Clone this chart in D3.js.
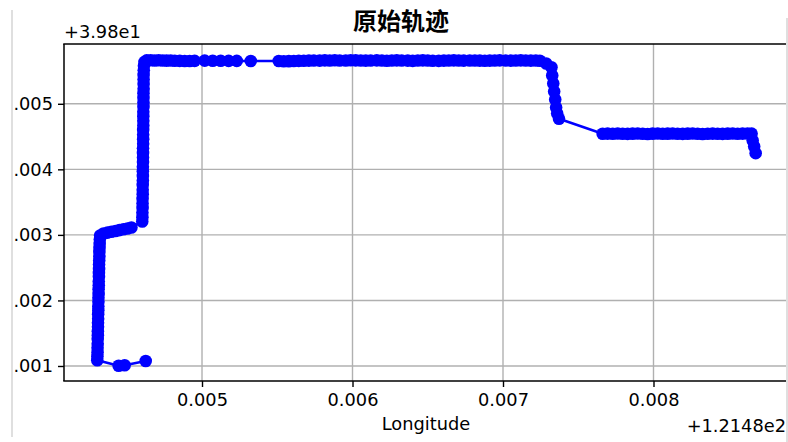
<!DOCTYPE html>
<html>
<head>
<meta charset="utf-8">
<script src="https://cdn.jsdelivr.net/npm/d3@7"></script>
<style>
  html, body { margin: 0; padding: 0; background: #ffffff; }
  svg { display: block; }
</style>
</head>
<body>
<div id="chart"></div>
<script>
// Raw GPS trajectory: longitude / latitude of each recorded fix, in order.
const longitude = [
  121.484626, 121.484486, 121.484446, 121.484304,
  // climb along the western edge
  121.484305, 121.484306, 121.484306, 121.484307, 121.484307, 121.484308,
  121.484308, 121.484309, 121.484309, 121.484310, 121.484310, 121.484311,
  121.484311, 121.484312, 121.484312, 121.484313, 121.484313, 121.484314,
  121.484314, 121.484315, 121.484315, 121.484316, 121.484316, 121.484317,
  121.484318, 121.484318, 121.484319, 121.484320, 121.484321, 121.484323,
  // short eastward leg
  121.484345, 121.484372, 121.484398, 121.484425, 121.484451, 121.484478,
  121.484505, 121.484531,
  // second climb
  121.484603, 121.484604, 121.484604, 121.484605, 121.484605, 121.484605,
  121.484606, 121.484606, 121.484606, 121.484607, 121.484607, 121.484607,
  121.484607, 121.484608, 121.484608, 121.484608, 121.484608, 121.484609,
  121.484609, 121.484609, 121.484609, 121.484610, 121.484610, 121.484610,
  121.484610, 121.484611, 121.484611, 121.484611, 121.484611, 121.484612,
  121.484612, 121.484612, 121.484612, 121.484613, 121.484614, 121.484618,
  // long northern run heading east
  121.484633, 121.484659, 121.484686, 121.484712, 121.484739, 121.484765,
  121.484792, 121.484819, 121.484852, 121.484885, 121.484918, 121.484951,
  121.485018, 121.485071, 121.485124, 121.485177, 121.485231, 121.485324,
  121.485510, 121.485543, 121.485577, 121.485610, 121.485643, 121.485676,
  121.485710, 121.485743, 121.485782, 121.485816, 121.485849, 121.485882,
  121.485915, 121.485955, 121.485988, 121.486021, 121.486055, 121.486088,
  121.486121, 121.486161, 121.486195, 121.486228, 121.486261, 121.486294,
  121.486327, 121.486367, 121.486400, 121.486434, 121.486467, 121.486500,
  121.486533, 121.486573, 121.486607, 121.486640, 121.486673, 121.486706,
  121.486739, 121.486779, 121.486813, 121.486846, 121.486879, 121.486912,
  121.486945, 121.486978, 121.487018, 121.487052, 121.487085, 121.487118,
  121.487151, 121.487185, 121.487218, 121.487245,
  // descent
  121.487287, 121.487322, 121.487327, 121.487334, 121.487340, 121.487347,
  121.487353, 121.487360, 121.487372,
  // eastern run
  121.487662, 121.487695, 121.487729, 121.487762, 121.487795, 121.487828,
  121.487861, 121.487895, 121.487928, 121.487961, 121.487994, 121.488028,
  121.488061, 121.488094, 121.488127, 121.488160, 121.488194, 121.488227,
  121.488260, 121.488293, 121.488326, 121.488360, 121.488393, 121.488426,
  121.488459, 121.488493, 121.488526, 121.488559, 121.488592, 121.488625,
  121.488652,
  // final fixes
  121.488659, 121.488669, 121.488679
];

const latitude = [
  39.801076, 39.801011, 39.801003, 39.801087,
  39.801150, 39.801210, 39.801280, 39.801340, 39.801410, 39.801470,
  39.801530, 39.801600, 39.801660, 39.801720, 39.801790, 39.801850,
  39.801910, 39.801980, 39.802040, 39.802100, 39.802170, 39.802230,
  39.802290, 39.802360, 39.802420, 39.802480, 39.802550, 39.802610,
  39.802670, 39.802740, 39.802800, 39.802860, 39.802930, 39.802990,
  39.803020, 39.803035, 39.803048, 39.803060, 39.803072, 39.803085,
  39.803098, 39.803112,
  39.803205, 39.803270, 39.803340, 39.803410, 39.803480, 39.803550,
  39.803620, 39.803690, 39.803760, 39.803830, 39.803900, 39.803970,
  39.804040, 39.804110, 39.804180, 39.804250, 39.804320, 39.804390,
  39.804460, 39.804530, 39.804600, 39.804670, 39.804740, 39.804810,
  39.804880, 39.804950, 39.805020, 39.805090, 39.805160, 39.805230,
  39.805300, 39.805370, 39.805440, 39.805510, 39.805580, 39.805640,
  39.805662, 39.805665, 39.805660, 39.805664, 39.805661, 39.805658,
  39.805660, 39.805656, 39.805655, 39.805653, 39.805652, 39.805655,
  39.805658, 39.805656, 39.805657, 39.805655, 39.805654, 39.805652,
  39.805652, 39.805648, 39.805650, 39.805652, 39.805655, 39.805657,
  39.805658, 39.805660, 39.805658, 39.805662, 39.805660, 39.805664,
  39.805661, 39.805660, 39.805664, 39.805662, 39.805660, 39.805658,
  39.805660, 39.805662, 39.805660, 39.805657, 39.805660, 39.805662,
  39.805660, 39.805658, 39.805655, 39.805660, 39.805662, 39.805660,
  39.805657, 39.805655, 39.805658, 39.805660, 39.805662, 39.805660,
  39.805658, 39.805660, 39.805661, 39.805659, 39.805656, 39.805658,
  39.805660, 39.805662, 39.805660, 39.805658, 39.805660, 39.805662,
  39.805660, 39.805658, 39.805660, 39.805656,
  39.805614, 39.805558, 39.805431, 39.805309, 39.805188, 39.805066,
  39.804944, 39.804852, 39.804771,
  39.804543, 39.804545, 39.804542, 39.804546, 39.804543, 39.804541,
  39.804544, 39.804547, 39.804543, 39.804540, 39.804544, 39.804546,
  39.804542, 39.804544, 39.804547, 39.804543, 39.804541, 39.804544,
  39.804546, 39.804543, 39.804540, 39.804542, 39.804545, 39.804543,
  39.804541, 39.804544, 39.804546, 39.804543, 39.804545, 39.804547,
  39.804545,
  39.804441, 39.804349, 39.804247
];

// Axis ticks and the offsets shown in the corners of the axes
const xTicks = [121.485, 121.486, 121.487, 121.488];
const yTicks = [39.801, 39.802, 39.803, 39.804, 39.805];
const xOffset = 121.48;
const yOffset = 39.80;
const xOffsetLabel = "+1.2148e2";
const yOffsetLabel = "+3.98e1";
const xDomain = [121.484083, 121.488907];
const yDomain = [39.800771, 39.805912];

const titleText = "原始轨迹";
const xLabelText = "Longitude";

const points = longitude.map((lon, i) => ({ lon, lat: latitude[i] }));

const W = 788, H = 442;
const plot = { left: 64, top: 44, bottom: 381, right: 790 };
const FS = 17.8;

const svg = d3.select("#chart").append("svg")
  .attr("width", W).attr("height", H)
  .style("font-family", "'DejaVu Sans', sans-serif");

svg.append("rect").attr("width", W).attr("height", H).attr("fill", "#ffffff");

const defs = svg.append("defs");
// visible frame of the page
defs.append("clipPath").attr("id", "frame")
  .append("rect").attr("x", 13).attr("y", 0).attr("width", 773).attr("height", H);
defs.append("clipPath").attr("id", "plotArea")
  .append("rect")
  .attr("x", plot.left).attr("y", plot.top)
  .attr("width", plot.right - plot.left).attr("height", plot.bottom - plot.top);

const root = svg.append("g").attr("clip-path", "url(#frame)");

const x = d3.scaleLinear().domain(xDomain).range([plot.left, plot.right]);
const y = d3.scaleLinear().domain(yDomain).range([plot.bottom, plot.top]);

const fmtX = v => (v - xOffset).toFixed(3);
const fmtY = v => (v - yOffset).toFixed(3);

// grid
const grid = root.append("g").attr("clip-path", "url(#plotArea)");
grid.selectAll("line.gx").data(xTicks).join("line")
  .attr("x1", d => x(d)).attr("x2", d => x(d))
  .attr("y1", plot.top).attr("y2", plot.bottom)
  .attr("stroke", "#b0b0b0").attr("stroke-width", 1.4);
grid.selectAll("line.gy").data(yTicks).join("line")
  .attr("x1", plot.left).attr("x2", plot.right)
  .attr("y1", d => y(d)).attr("y2", d => y(d))
  .attr("stroke", "#b0b0b0").attr("stroke-width", 1.4);

// trajectory
const traj = root.append("g").attr("clip-path", "url(#plotArea)");
const line = d3.line().x(d => x(d.lon)).y(d => y(d.lat));
traj.append("path").datum(points)
  .attr("d", line)
  .attr("fill", "none").attr("stroke", "#0000ff").attr("stroke-width", 2.5)
  .attr("stroke-linejoin", "round");
traj.selectAll("circle").data(points).join("circle")
  .attr("cx", d => x(d.lon)).attr("cy", d => y(d.lat))
  .attr("r", 6.3).attr("fill", "#0000ff");

// axes
const xAxis = d3.axisBottom(x).tickValues(xTicks).tickFormat(fmtX)
  .tickSize(6).tickPadding(6).tickSizeOuter(0);
const yAxis = d3.axisLeft(y).tickValues(yTicks).tickFormat(fmtY)
  .tickSize(6).tickPadding(5).tickSizeOuter(0);

const gx = root.append("g").attr("transform", `translate(0,${plot.bottom})`).call(xAxis);
const gy = root.append("g").attr("transform", `translate(${plot.left},0)`).call(yAxis);
[gx, gy].forEach(g => {
  g.select(".domain").remove();
  g.selectAll(".tick line").attr("stroke", "#000").attr("stroke-width", 1.4);
  g.selectAll(".tick text").attr("fill", "#000")
    .style("font-family", "'DejaVu Sans', sans-serif").style("font-size", FS + "px");
});

// spines (the right edge of the axes lies beyond the page)
root.append("line").attr("x1", plot.left).attr("x2", plot.left)
  .attr("y1", plot.top).attr("y2", plot.bottom)
  .attr("stroke", "#000").attr("stroke-width", 1.5);
root.append("line").attr("x1", plot.left - 0.75).attr("x2", plot.right)
  .attr("y1", plot.top).attr("y2", plot.top)
  .attr("stroke", "#000").attr("stroke-width", 1.5);
root.append("line").attr("x1", plot.left - 0.75).attr("x2", plot.right)
  .attr("y1", plot.bottom).attr("y2", plot.bottom)
  .attr("stroke", "#000").attr("stroke-width", 1.5);

// offset labels
root.append("text").attr("x", plot.left).attr("y", 38)
  .attr("font-size", FS).attr("fill", "#000").text(yOffsetLabel);
root.append("text").attr("x", 786).attr("y", 432)
  .attr("text-anchor", "end").attr("font-size", FS).attr("fill", "#000").text(xOffsetLabel);

// axis label and title
root.append("text").attr("x", 426).attr("y", 430)
  .attr("text-anchor", "middle").attr("font-size", FS).attr("fill", "#000").text(xLabelText);
root.append("text").attr("x", 401).attr("y", 30)
  .attr("text-anchor", "middle")
  .style("font-family", "'Noto Sans CJK SC', sans-serif")
  .style("font-weight", 700).style("font-size", "24px")
  .attr("fill", "#000").text(titleText);

// page frame edges
svg.append("line").attr("x1", 12).attr("x2", 12).attr("y1", 10).attr("y2", 437)
  .attr("stroke", "#d4d4d4").attr("stroke-width", 1.5);
svg.append("line").attr("x1", 787).attr("x2", 787).attr("y1", 18).attr("y2", 442)
  .attr("stroke", "#d4d4d4").attr("stroke-width", 1.5);
</script>
</body>
</html>
